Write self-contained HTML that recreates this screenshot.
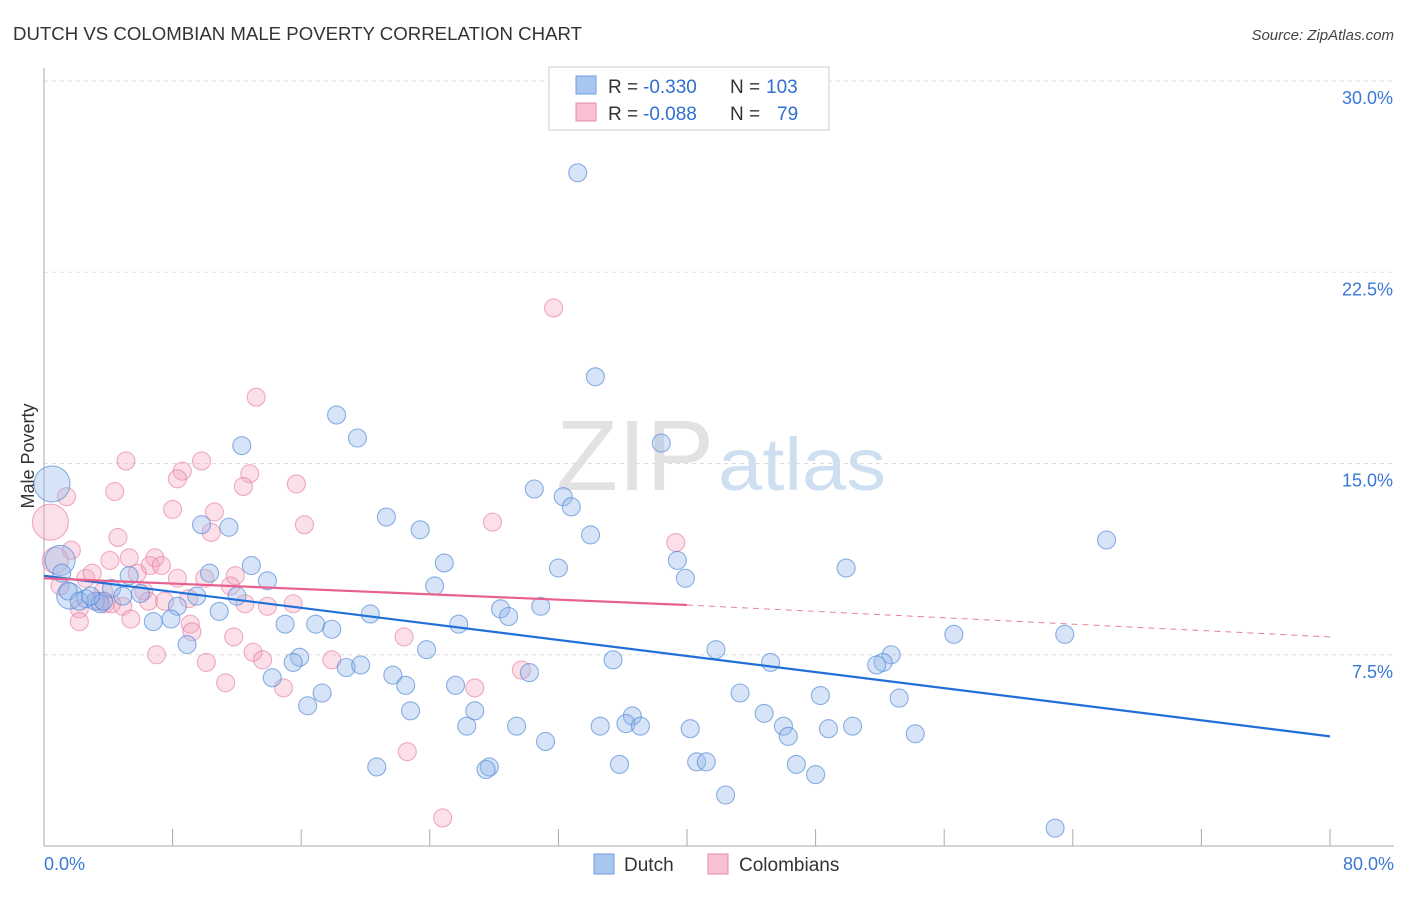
<!DOCTYPE html>
<html><head><meta charset="utf-8"><style>
body{margin:0;background:#fff;font-family:"Liberation Sans",sans-serif;}
svg text{font-family:"Liberation Sans",sans-serif;}
</style></head><body>
<svg id="chart" width="1406" height="892" viewBox="0 0 1406 892" xmlns="http://www.w3.org/2000/svg">
<text x="13" y="40" font-size="18" fill="#333" textLength="569" lengthAdjust="spacingAndGlyphs">DUTCH VS COLOMBIAN MALE POVERTY CORRELATION CHART</text>
<text x="1394" y="40" font-size="15" fill="#444" text-anchor="end" font-style="italic">Source: ZipAtlas.com</text>
<text transform="translate(34,456) rotate(-90)" font-size="18" fill="#333" text-anchor="middle">Male Poverty</text>
<g>
<text x="714" y="490" font-size="100" fill="#e2e2e2" text-anchor="end" font-family="Liberation Serif" textLength="158" lengthAdjust="spacingAndGlyphs">ZIP</text>
<text x="718" y="490" font-size="74" fill="#cfdff2" textLength="168" lengthAdjust="spacingAndGlyphs">atlas</text>
</g>
<g id="grid"></g>
<g id="axes"></g>
<g id="pinkPts"></g>
<g id="bluePts"></g>
<g id="trends"></g>
<g>
<rect x="549" y="67" width="280" height="63" fill="#fff" stroke="#ccc"/>
<rect x="576" y="76" width="20" height="18" fill="#a9c6ef" stroke="#6f9fe0"/>
<rect x="576" y="103" width="20" height="18" fill="#f8c0d2" stroke="#e88aa8"/>
<text x="608" y="93" font-size="19" fill="#333">R =</text>
<text x="643" y="93" font-size="19" fill="#2f6fd0">-0.330</text>
<text x="730" y="93" font-size="19" fill="#333">N =</text>
<text x="766" y="93" font-size="19" fill="#2f6fd0">103</text>
<text x="608" y="120" font-size="19" fill="#333">R =</text>
<text x="643" y="120" font-size="19" fill="#2f6fd0">-0.088</text>
<text x="730" y="120" font-size="19" fill="#333">N =</text>
<text x="777" y="120" font-size="19" fill="#2f6fd0">79</text>
</g>
<g>
<rect x="594" y="854" width="20" height="20" fill="#a9c6ef" stroke="#6f9fe0"/>
<text x="624" y="871" font-size="19" fill="#333">Dutch</text>
<rect x="708" y="854" width="20" height="20" fill="#f8c0d2" stroke="#e88aa8"/>
<text x="739" y="871" font-size="19" fill="#333">Colombians</text>
</g>
</svg>
<script>
const yTicks=[7.5,15,22.5,30];
const yTickLabels=["7.5%","15.0%","22.5%","30.0%"];
const xEndLabels=["0.0%","80.0%"];
const blueX=[33.2,34.3,18.2,19.5,12.3,38.4,30.5,32.3,32.8,21.3,23.4,34.0,66.1,9.8,11.5,12.9,24.9,32.0,39.4,49.9,39.9,10.3,13.9,24.3,5.3,4.2,4.9,6.0,12.0,9.5,28.4,28.9,30.9,20.3,10.9,8.3,6.8,7.9,15.0,16.9,17.9,25.8,56.6,63.5,8.9,23.8,41.8,52.7,52.2,51.8,45.2,35.4,15.9,15.5,18.8,19.7,30.2,21.7,14.2,22.5,25.6,17.3,43.3,48.3,53.2,16.4,22.8,26.8,36.6,44.8,36.2,34.6,37.1,29.4,26.3,40.2,46.0,48.8,50.3,46.3,54.2,31.2,20.7,27.7,27.5,35.8,40.6,41.2,46.8,48.0,42.4,62.9,0.5,1.0,1.6,2.6,3.2,3.5,1.5,1.1,3.7,2.2,2.9];
const blueY=[26.4,18.4,16.9,16.0,15.7,15.8,14.0,13.7,13.3,12.9,12.4,12.2,12.0,12.6,12.5,11.0,11.1,10.9,11.2,10.9,10.5,10.7,10.4,10.2,10.6,10.1,9.8,9.9,9.8,9.8,9.3,9.0,9.4,9.1,9.2,9.4,8.8,8.9,8.7,8.7,8.5,8.7,8.3,8.3,7.9,7.7,7.7,7.5,7.2,7.1,7.2,7.3,7.4,7.2,7.0,7.1,6.8,6.7,6.6,6.3,6.3,6.0,6.0,5.9,5.8,5.5,5.3,5.3,5.1,5.2,4.8,4.7,4.7,4.7,4.7,4.6,4.7,4.6,4.7,4.3,4.4,4.1,3.1,3.1,3.0,3.2,3.3,3.3,3.2,2.8,2.0,0.7,14.2,11.2,9.8,9.7,9.6,9.5,10.0,10.7,9.6,9.6,9.8];
const blueSize=[9,9,9,9,9,9,9,9,9,9,9,9,9,9,9,9,9,9,9,9,9,9,9,9,9,9,9,9,9,9,9,9,9,9,9,9,9,9,9,9,9,9,9,9,9,9,9,9,9,9,9,9,9,9,9,9,9,9,9,9,9,9,9,9,9,9,9,9,9,9,9,9,9,9,9,9,9,9,9,9,9,9,9,9,9,9,9,9,9,9,9,9,18,15,13,9,9,9,9,9,9,9,9];
const pinkX=[31.7,13.2,5.1,9.8,8.6,8.3,12.8,12.4,15.7,1.4,4.4,10.6,8.0,16.2,27.9,10.4,4.6,39.3,1.7,0.4,0.7,4.1,5.3,6.9,6.6,7.3,5.8,8.3,10.0,11.9,11.6,2.6,3.0,1.0,6.2,6.5,7.5,9.0,3.4,3.8,2.2,4.9,12.5,13.9,15.5,5.4,2.2,9.1,9.2,11.8,22.4,13.0,13.6,7.0,10.1,17.9,29.7,11.3,14.9,26.8,22.6,24.8,3.7,4.2];
const pinkY=[21.1,17.6,15.1,15.1,14.7,14.4,14.6,14.1,14.2,13.7,13.9,13.1,13.2,12.6,12.7,12.3,12.1,11.9,11.6,12.7,11.2,11.2,11.3,11.3,11.0,11.0,10.7,10.5,10.5,10.6,10.2,10.5,10.7,10.2,10.0,9.6,9.6,9.7,9.6,9.5,9.3,9.4,9.5,9.4,9.5,8.9,8.8,8.7,8.4,8.2,8.2,7.6,7.3,7.5,7.2,7.3,6.9,6.4,6.2,6.2,3.7,1.1,10.0,9.5];
const pinkSize=[9,9,9,9,9,9,9,9,9,9,9,9,9,9,9,9,9,9,9,18,13,9,9,9,9,9,9,9,9,9,9,9,9,9,9,9,9,9,9,9,9,9,9,9,9,9,9,9,9,9,9,9,9,9,9,9,9,9,9,9,9,9,9,9];
const blueTrend=[10.6,4.3];
const pinkTrend=[10.5,9.45,8.2];
const pinkSolidEnd=40;

const NS="http://www.w3.org/2000/svg";
const X0=44,X1=1330,Y0=846,PX_PER=25.5;
function sx(v){return X0+(v/80)*(X1-X0);}
function sy(v){return Y0-v*PX_PER;}
function mk(tag,attrs,parent){const e=document.createElementNS(NS,tag);for(const k in attrs)e.setAttribute(k,attrs[k]);parent.appendChild(e);return e;}

const grid=document.getElementById('grid');
yTicks.forEach((t,i)=>{
  const l=mk('line',{x1:44,x2:1394,y1:sy(t),y2:sy(t),stroke:'#ddd','stroke-dasharray':'4,4'},grid);
  
  
  const tx=mk('text',{x:1393,y:sy(t)+23,'font-size':18,fill:'#3a78d6','text-anchor':'end'},grid);
  tx.textContent=yTickLabels[i];
  
  
});
const axes=document.getElementById('axes');
const ya=mk('line',{x1:44,x2:44,y1:68,y2:846,stroke:'#aaa'},axes);


const xa=mk('line',{x1:44,x2:1394,y1:846,y2:846,stroke:'#aaa'},axes);


for(let v=8;v<=80;v+=8){
  const t=mk('line',{x1:sx(v),x2:sx(v),y1:829,y2:846,stroke:'#aaa'},axes);
  
  
}
const xl0=mk('text',{x:44,y:870,'font-size':18,fill:'#3a78d6'},axes);xl0.textContent=xEndLabels[0];


const xl1=mk('text',{x:1394,y:870,'font-size':18,fill:'#3a78d6','text-anchor':'end'},axes);xl1.textContent=xEndLabels[1];



const pg=document.getElementById('pinkPts');
pinkX.forEach((x,i)=>{
  const c=mk('circle',{cx:sx(x),cy:sy(pinkY[i]),r:pinkSize[i],fill:'rgba(244,160,188,0.33)',stroke:'rgba(230,120,155,0.6)','stroke-width':1.1},pg);
  
  
});
const bg=document.getElementById('bluePts');
blueX.forEach((x,i)=>{
  const c=mk('circle',{cx:sx(x),cy:sy(blueY[i]),r:blueSize[i],fill:'rgba(150,185,235,0.38)',stroke:'rgba(80,135,215,0.65)','stroke-width':1.1},bg);
  
  
});
const tg=document.getElementById('trends');
const bl=mk('line',{x1:sx(0),y1:sy(blueTrend[0]),x2:sx(80),y2:sy(blueTrend[1]),stroke:'#1f6fd8','stroke-width':2.2},tg);


const pl=mk('line',{x1:sx(0),y1:sy(pinkTrend[0]),x2:sx(pinkSolidEnd),y2:sy(pinkTrend[1]),stroke:'#e8608c','stroke-width':2.2},tg);


const pd=mk('line',{x1:sx(pinkSolidEnd),y1:sy(pinkTrend[1]),x2:sx(80),y2:sy(pinkTrend[2]),stroke:'#e8809f','stroke-width':1,'stroke-dasharray':'6,5'},tg);


</script>
</body></html>
